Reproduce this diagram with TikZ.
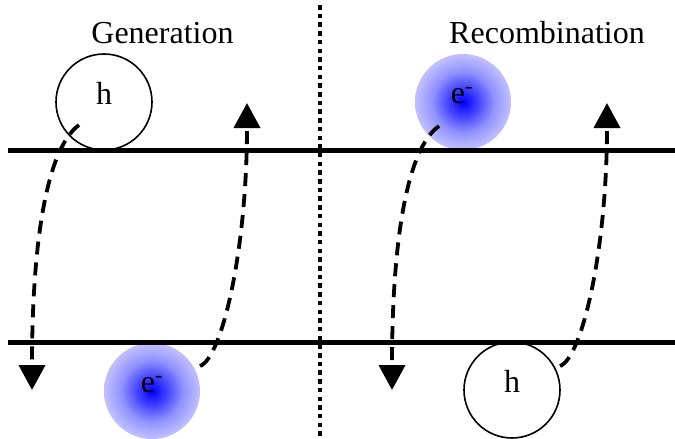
\documentclass[tikz,border=0pt]{standalone}
\usepackage{fontspec}
\setmainfont{Liberation Serif}
\usetikzlibrary{arrows.meta,calc}
\definecolor{eblue}{RGB}{0,0,255}
\definecolor{emid}{RGB}{70,70,255}
\definecolor{elight}{RGB}{145,145,255}
\definecolor{epale}{RGB}{188,188,255}
\definecolor{eedge}{RGB}{206,206,255}
\pgfdeclareradialshading{eblob}{\pgfpointorigin}{color(0bp)=(eblue); color(8bp)=(emid); color(16bp)=(elight); color(24bp)=(epale); color(32bp)=(eedge); color(50bp)=(eedge)}
\begin{document}
\begin{tikzpicture}[x=1pt,y=-1pt,
  band/.style={line width=5pt},
  sepline/.style={line width=4.2pt, dash pattern=on 4.5pt off 4.2pt},
  hole/.style={circle, draw, line width=1.6pt, minimum size=96pt, inner sep=0pt},
  elec/.style={circle, shading=eblob, minimum size=96pt, inner sep=0pt},
  lbl/.style={font=\fontsize{32}{38}\selectfont, inner sep=0pt, anchor=base},
  trans/.style={line width=3.8pt, dash pattern=on 13pt off 8pt, -{Triangle[width=26pt,length=25pt]}}
]
\useasboundingbox (0,0) rectangle (675,439);

% particles
\node[hole] (hL) at (104,102) {};
\node[elec] (eL) at (152,391) {};
\node[elec] (eR) at (463,102) {};
\node[hole] (hR) at (512,390) {};

% bands and separator
\coordinate (cbL) at (8,150);  \coordinate (cbR) at (675,150);
\coordinate (vbL) at (8,342);  \coordinate (vbR) at (675,342);
\draw[band] (cbL) -- (cbR);
\draw[band] (vbL) -- (vbR);
\coordinate (sT) at (320,5); \coordinate (sB) at (320,439);
\draw[sepline] (sT) -- (sB);

% labels
\node[lbl] (tG) at (162.5,43) {Generation};
\node[lbl] (tR) at (547,43) {Recombination};
\node[lbl] (hLt) at (104,104) {h};
\node[lbl] (eLt) at (152,392) {e\textsuperscript{-}};
\node[lbl] (eRt) at (462,103) {e\textsuperscript{-}};
\node[lbl] (hRt) at (512,392) {h};

% arrow tips
\coordinate (dL) at (32,390);
\coordinate (uL) at (247,103);
\coordinate (dR) at (392,390);
\coordinate (uR) at (607,103);

% transitions
\draw[trans] ($(hL)+(-25,23)$) .. controls ($(hL)+(-59,48)$) and (32,250) .. (dL);
\draw[trans] ($(eL)+(48,-25)$) .. controls ($(eL)+(70,-33)$) and (247,250) .. (uL);
\draw[trans] ($(eR)+(-24,24)$) .. controls ($(eR)+(-58,48)$) and (392,250) .. (dR);
\draw[trans] ($(hR)+(48,-24)$) .. controls ($(hR)+(70,-32)$) and (607,250) .. (uR);
\end{tikzpicture}
\end{document}
